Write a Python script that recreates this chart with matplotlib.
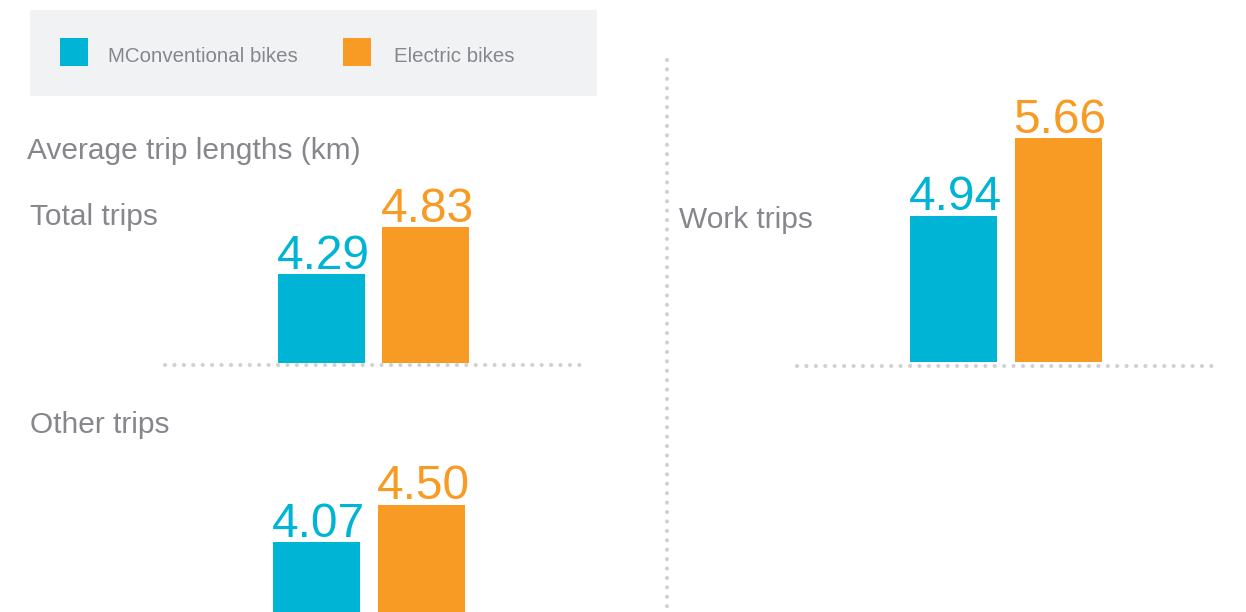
import matplotlib
matplotlib.use("Agg")
import matplotlib.pyplot as plt
from matplotlib.patches import Rectangle
from matplotlib.lines import Line2D

# data
series = ["MConventional bikes", "Electric bikes"]
trip_types = ["Total trips", "Work trips", "Other trips"]
conventional = [4.29, 4.94, 4.07]
electric = [4.83, 5.66, 4.50]
title = "Average trip lengths (km)"

colors = ["#00b4d5", "#f89b25"]
grey = "#86878d"
dotc = "#d0d1d3"

plt.rcParams["font.family"] = ["Liberation Sans", "DejaVu Sans"]

W, H = 1246, 612
fig = plt.figure(figsize=(W / 100, H / 100), dpi=100)


def fbox(x0, y0, x1, y1):
    # pixel box (origin top-left) -> figure fraction rect
    return [x0 / W, 1 - y1 / H, (x1 - x0) / W, (y1 - y0) / H]


def dots(x0, y0, x1, y1):
    fig.add_artist(Line2D([x0 / W, x1 / W], [1 - y0 / H, 1 - y1 / H],
                          transform=fig.transFigure, color=dotc, lw=3,
                          ls=(0, (0.01, 2.25)), dash_capstyle="round"))


def ftext(x, y, s, size, color=grey, **kw):
    fig.text(x / W, 1 - y / H, s, fontsize=size, color=color,
             va="baseline", **kw)


# legend box
fig.add_artist(Rectangle((30 / W, 1 - 96 / H), 567 / W, 86 / H,
                         transform=fig.transFigure, color="#f1f2f4", lw=0))
for (sx, tx), name, c in zip([(60, 108), (343, 394)], series, colors):
    fig.add_artist(Rectangle((sx / W, 1 - 66 / H), 28 / W, 28 / H,
                             transform=fig.transFigure, color=c, lw=0))
    ftext(tx, 62, name, 14.8)

ftext(27, 159, title, 21.5)

# panels: box in px, first bar centre, bar step, value at baseline, label pos, baseline line
panels = [
    dict(box=(165, 170, 585, 363), c0=321.5, step=104, v0=3.27,
         label=(30, 225), line=365),
    dict(box=(797, 100, 1215, 362), c0=953, step=105, v0=3.588,
         label=(679, 228), line=366),
    dict(box=(165, 420, 585, 612), c0=316.5, step=105, v0=3.27,
         label=(30, 433), line=None),
]

for i, p in enumerate(panels):
    L, T, R, B = p["box"]
    ax = fig.add_axes(fbox(L, T, R, B))
    vals = [conventional[i], electric[i]]
    ax.bar([0, 1], vals, width=87 / p["step"], color=colors)
    ax.set_xlim(-(p["c0"] - L) / p["step"], (R - p["c0"]) / p["step"])
    ax.set_ylim(p["v0"], p["v0"] + (B - T) / (87 if p["v0"] < 3.5 else 108))
    for j, v in enumerate(vals):
        ax.annotate(f"{v:.2f}", (j, v), xytext=(2, 5.5), textcoords="offset pixels",
                    ha="center", va="baseline", fontsize=34.5, color=colors[j])
    ax.axis("off")
    ftext(p["label"][0], p["label"][1], trip_types[i], 21.5)
    if p["line"]:
        dots(L, p["line"], R, p["line"])

# vertical separator
dots(667, 60, 667, 612)

fig.savefig("out.png", dpi=100)
